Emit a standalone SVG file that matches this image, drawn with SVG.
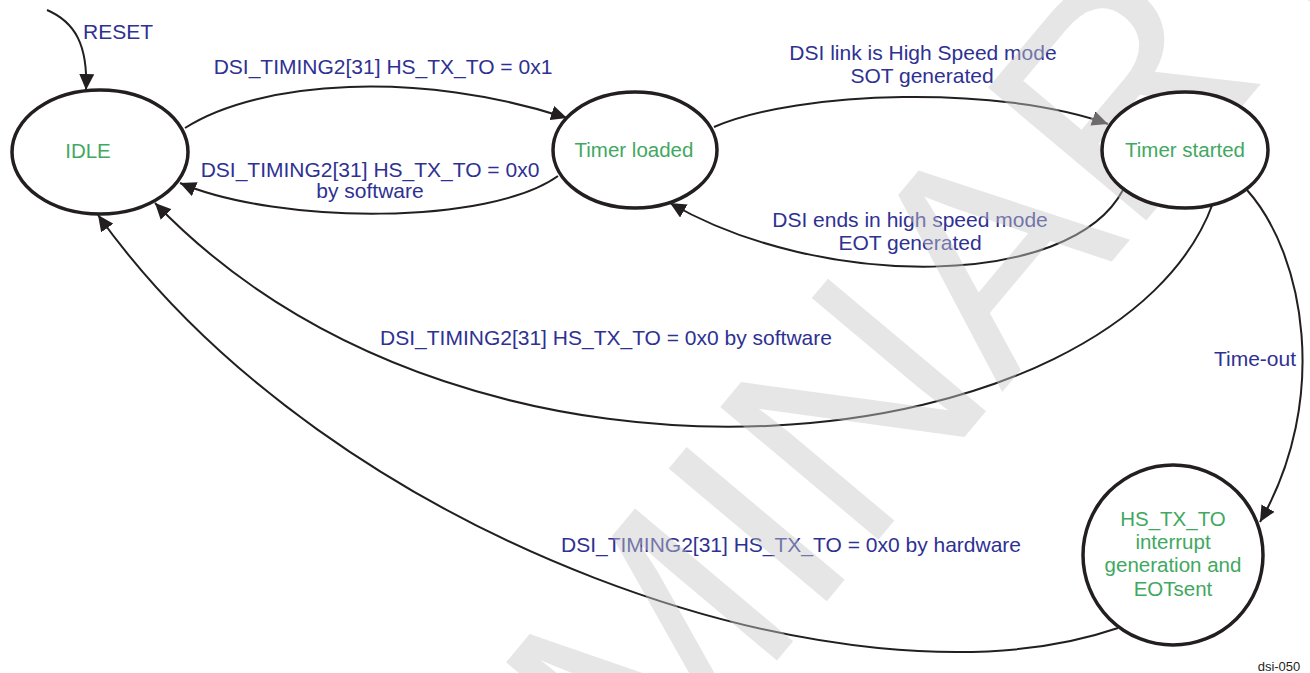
<svg xmlns="http://www.w3.org/2000/svg" width="1310" height="673" viewBox="0 0 1310 673">
<defs>
<style>
.node{fill:#ffffff;stroke:#231f20;stroke-width:3.5}
.edge{fill:none;stroke:#231f20;stroke-width:2;marker-end:url(#arr)}
.lbl{font-family:"Liberation Sans",Arial,sans-serif;font-size:21px;fill:#2e3192;text-anchor:middle}
.ntx{font-family:"Liberation Sans",Arial,sans-serif;font-size:20.5px;fill:#41a85f;text-anchor:middle}
.wm{font-family:"Liberation Sans",Arial,sans-serif;font-size:300px;fill:#c8c8c8;fill-opacity:0.45}
</style>
<marker id="arr" markerUnits="userSpaceOnUse" markerWidth="17" markerHeight="15" refX="16" refY="7.5" orient="auto">
<path d="M0,0 L16,7.5 L0,15 Z" fill="#231f20"/>
</marker>
</defs>
<rect width="1310" height="673" fill="#ffffff"/>
<g id="connectors">
<path class="edge" d="M47,10 C75,22 88,45 86,90"/>
<path class="edge" d="M185,128 C260,80 420,70 567,118"/>
<path class="edge" d="M558,176 C490,225 280,225 180,183"/>
<path class="edge" d="M714,127 C800,90 1000,85 1108,124"/>
<path class="edge" d="M1123,190 C1070,290 820,290 670,203"/>
<path class="edge" d="M1213,203 C1120,460 480,540 155,203"/>
<path class="edge" d="M1247,190 C1305,255 1330,400 1260,522"/>
<path class="edge" d="M1118,628 C850,720 330,540 98,215"/>
</g>
<g id="labels">
<text class="lbl" x="118" y="39">RESET</text>
<text class="lbl" x="383" y="74">DSI_TIMING2[31] HS_TX_TO = 0x1</text>
<text class="lbl" x="370" y="177">DSI_TIMING2[31] HS_TX_TO = 0x0</text>
<text class="lbl" x="370" y="198">by software</text>
<text class="lbl" x="923" y="60">DSI link is High Speed mode</text>
<text class="lbl" x="922" y="83">SOT generated</text>
<text class="lbl" x="910" y="227">DSI ends in high speed mode</text>
<text class="lbl" x="910" y="250">EOT generated</text>
<text class="lbl" x="606" y="345">DSI_TIMING2[31] HS_TX_TO = 0x0 by software</text>
<text class="lbl" x="791" y="552">DSI_TIMING2[31] HS_TX_TO = 0x0 by hardware</text>
<text class="lbl" x="1255" y="366">Time-out</text>
</g>
<text class="wm" transform="translate(91,1478) rotate(-50)">PRELIMINARY</text>
<g id="node-idle">
<ellipse class="node" cx="100" cy="152" rx="88" ry="62"/>
<text class="ntx" x="88" y="158">IDLE</text>
</g>
<g id="node-timer-loaded">
<ellipse class="node" cx="635" cy="150" rx="82" ry="58"/>
<text class="ntx" x="634" y="157">Timer loaded</text>
</g>
<g id="node-timer-started">
<ellipse class="node" cx="1185" cy="150" rx="83" ry="58"/>
<text class="ntx" x="1185" y="157">Timer started</text>
</g>
<g id="node-hs-tx-to">
<circle class="node" cx="1173" cy="555" r="90"/>
<text class="ntx" x="1173" y="526">HS_TX_TO</text>
<text class="ntx" x="1173" y="549">interrupt</text>
<text class="ntx" x="1173" y="572">generation and</text>
<text class="ntx" x="1173" y="596">EOTsent</text>
</g>
<text x="1279" y="671" font-family="Liberation Sans, Arial, sans-serif" font-size="13" fill="#231f20" text-anchor="middle">dsi-050</text>
</svg>
